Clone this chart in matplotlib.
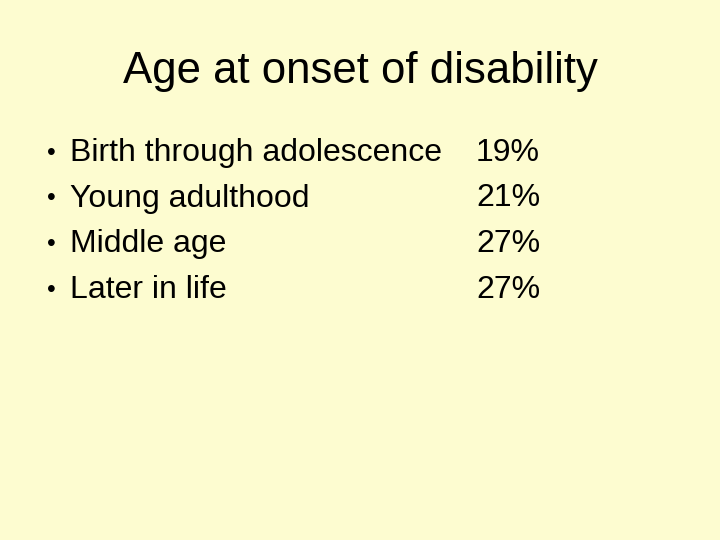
import matplotlib.pyplot as plt

title = 'Age at onset of disability'
labels = ['Birth through adolescence', 'Young adulthood', 'Middle age', 'Later in life']
values = [19, 21, 27, 27]

fig = plt.figure(figsize=(7.2, 5.4), dpi=100, facecolor='#FDFCD0')
plt.rcParams['font.family'] = ['Liberation Sans', 'DejaVu Sans']

fig.text(0.5, 1 - 72 / 540, title, ha='center', va='center', fontsize=31.5)

y0 = 153
for i, (lab, v) in enumerate(zip(labels, values)):
    y = 1 - (y0 + i * 45.5) / 540
    fig.text(47 / 720, y, '•', ha='left', va='center', fontsize=18)
    fig.text(70 / 720, y, lab, ha='left', va='center', fontsize=23)
    fig.text(476 / 720, y, f'{v}%', ha='left', va='center', fontsize=23)

fig.savefig('out.png', dpi=100, facecolor=fig.get_facecolor())
